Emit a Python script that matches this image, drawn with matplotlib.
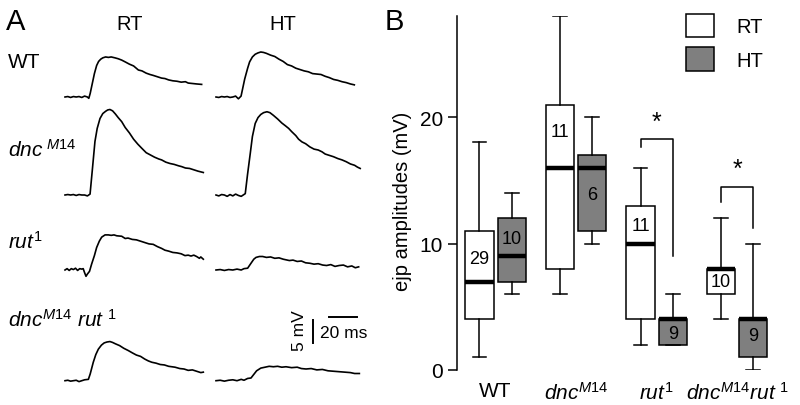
import matplotlib
matplotlib.use('Agg')
import matplotlib.pyplot as plt
from matplotlib.patches import Patch
import numpy as np

plt.rcParams['font.family'] = ['Liberation Sans', 'DejaVu Sans']
plt.rcParams['mathtext.fontset'] = 'custom'
plt.rcParams['mathtext.rm'] = 'Liberation Sans'
plt.rcParams['mathtext.it'] = 'Liberation Sans:italic'
plt.rcParams['mathtext.bf'] = 'Liberation Sans:bold'

# ---------------- panel A: example ejp traces (ms, mV above baseline) ----------------
wt_rt_t = [0, 2, 4, 6, 8, 10, 12, 14, 16, 17, 18, 19.5, 21, 22.6, 24, 25.5, 27, 29, 31, 33, 35.7, 38, 40.5,
           43, 46, 49, 52.4, 55, 58, 60.7, 63, 66, 69, 71.4, 74, 77, 80, 83, 86, 88, 91, 94, 97.6]
wt_rt_v = [0, 0.1, -0.1, 0.1, 0, 0.1, -0.1, 0.2, 0, -0.3, 0.8, 3.0, 5.2, 7.0, 7.9, 8.4, 8.7, 8.9, 8.8, 8.9,
           8.7, 8.5, 8.2, 7.8, 7.3, 6.9, 6.0, 5.8, 5.3, 5.0, 4.8, 4.5, 4.2, 4.1, 3.8, 3.6, 3.5, 3.3, 3.4,
           3.1, 3.0, 2.9, 2.8]
wt_ht_t = [0, 2, 4, 6, 8, 10, 12, 14, 16, 17.9, 19, 20.5, 22.6, 24, 26, 28, 30, 32, 34, 36, 39, 42, 45, 48,
           51, 54, 57, 60, 63, 66, 69, 72, 75, 78, 81, 84, 87, 90, 93, 96, 98.8]
wt_ht_v = [0, -0.1, 0.1, 0, 0.1, -0.1, 0, 0.2, -0.4, 0.2, 1.8, 4.0, 6.4, 7.8, 8.9, 9.5, 9.8, 10.0, 9.9, 9.7,
           9.3, 9.0, 8.4, 7.9, 7.2, 6.9, 6.4, 6.1, 5.8, 5.6, 5.2, 5.1, 5.0, 4.6, 4.3, 3.9, 3.7, 3.4, 3.2,
           2.9, 2.7]
dnc_rt_t = [0, 2, 4, 6, 8, 10, 12, 14, 16, 17.9, 19.5, 21.4, 23, 25, 27, 29, 30.5, 32.1, 34, 36, 38, 40.5,
            43, 46, 49, 52, 54.8, 58, 61, 64, 67, 69, 72, 75, 78, 81, 83.4, 86, 89, 92, 95, 98.8]
dnc_rt_v = [0, 0.1, 0, 0.1, -0.1, 0.1, 0, 0, -0.2, 0.2, 5.5, 11.9, 14.8, 17.0, 18.1, 18.6, 18.9, 19.0, 18.7,
            18.0, 17.2, 16.3, 15.0, 13.8, 12.4, 11.3, 10.4, 9.4, 8.9, 8.4, 8.0, 7.8, 7.3, 7.0, 6.8, 6.5,
            6.3, 6.0, 5.9, 5.6, 5.3, 5.0]
dnc_ht_t = [0, 2, 4, 6, 8, 10, 12, 14, 16, 18, 20.9, 22.5, 24.5, 26, 28, 30, 32, 34, 36.4, 38.5, 41, 44, 47,
            49.5, 51.9, 54, 57, 59, 61.4, 64, 67, 70, 73, 75.7, 78, 81, 84, 87, 90, 93, 96, 99, 101, 103]
dnc_ht_v = [0, -0.2, 0.1, 0, -0.3, 0.1, -0.2, 0.2, -0.1, -0.3, 0.3, 4.5, 9.3, 13.0, 15.9, 17.2, 17.9, 18.3,
            18.5, 18.3, 17.7, 16.9, 16.0, 15.4, 14.8, 14.1, 13.2, 12.4, 11.8, 11.4, 10.7, 10.2, 10.0, 9.6,
            9.1, 8.8, 8.5, 8.1, 7.8, 7.4, 6.9, 6.6, 6.2, 5.9]
rut_rt_t = [0, 1.5, 3, 4.5, 6, 7.5, 9, 10.5, 12, 13, 14, 15, 16, 17.5, 19, 21, 22.6, 24.5, 26.2, 28.6, 31,
            33, 35, 37, 40.5, 43, 45, 48, 51, 54, 57, 60, 63, 66, 69, 71.4, 74, 77, 80, 83, 85.7, 88, 90,
            92, 94, 96, 97, 98.8]
rut_rt_v = [0, 0.3, -0.1, 0.3, 0.1, 0.4, -0.1, 0.3, 0.2, 0.3, -0.6, -1.4, -0.9, -0.3, 1.3, 3.2, 5.0, 6.4,
            7.3, 7.8, 7.8, 7.7, 7.8, 7.6, 7.5, 7.0, 7.1, 6.8, 6.7, 6.4, 6.1, 5.8, 5.7, 5.2, 4.8, 4.4, 4.2,
            3.9, 3.8, 3.6, 3.2, 3.3, 3.1, 3.3, 3.0, 2.6, 2.9, 2.4]
rut_ht_t = [0, 3, 6, 9, 12, 15, 18, 20, 22.6, 25, 27, 28.6, 31, 33.3, 36, 39, 42, 45, 48, 52.4, 55, 58, 61,
            64, 67, 70, 73, 76.2, 79, 82, 85, 88, 91, 94, 97, 99.5, 101.9]
rut_ht_v = [0, 0.1, -0.1, 0.1, 0, 0.2, 0, 0.3, 0.4, 1.5, 2.4, 2.8, 3.0, 3.0, 2.8, 2.9, 2.6, 2.7, 2.4, 2.1,
            2.2, 1.9, 2.0, 1.6, 1.5, 1.3, 1.4, 1.1, 1.0, 1.2, 0.8, 1.0, 1.1, 0.7, 0.9, 0.5, 0.7]
dr_rt_t = [0, 2, 4, 6, 8, 10, 12, 14, 16.7, 18, 20.2, 22, 23.8, 26, 28, 30, 32.1, 34, 36, 39, 42, 45.2, 48,
           51, 54, 57, 59.5, 62, 65, 68, 71, 74, 78.6, 82, 85, 88, 91, 94, 97, 98.8]
dr_rt_v = [0, 0.1, -0.1, 0, 0.1, -0.2, 0, 0.2, 0.3, 1.5, 4.1, 5.8, 7.0, 7.9, 8.4, 8.6, 8.7, 8.5, 8.2, 7.8,
           7.2, 6.7, 6.2, 5.7, 5.4, 4.8, 4.4, 4.1, 3.9, 3.6, 3.5, 3.2, 3.0, 2.7, 2.6, 2.3, 2.4, 2.1, 1.8,
           1.9]
dr_ht_t = [0, 3, 6, 9, 12, 15, 18, 20, 22.6, 25, 27, 29, 32, 35, 38, 41, 44, 47, 50, 54, 58, 61, 64.3, 68,
           72, 76, 80, 84, 88, 92, 96, 99, 102.4]
dr_ht_v = [0, 0.1, -0.1, 0.1, 0.2, 0, 0.3, 0.1, 0.5, 0.6, 1.4, 2.2, 2.8, 3.0, 3.2, 3.1, 3.2, 3.0, 3.1, 2.9,
           3.0, 2.7, 2.6, 2.7, 2.4, 2.5, 2.2, 2.1, 2.0, 1.9, 1.8, 1.6, 1.6]

# ---------------- panel B: ejp amplitude box plots (mV) ----------------
genotypes = ['WT', r'$\mathit{dnc}^{\mathit{M14}}$', r'$\mathit{rut}^{\mathit{1}}$',
             r'$\mathit{dnc}^{\mathit{M14}}\mathit{rut}^{\ \mathit{1}}$']
rt_lo = [1, 6, 2, 4]
rt_q1 = [4, 8, 4, 6]
rt_med = [7, 16, 10, 8]
rt_q3 = [11, 21, 13, 8]
rt_hi = [18, 28, 16, 12]
rt_n = [29, 11, 11, 10]
ht_lo = [6, 10, 2, 0]
ht_q1 = [7, 11, 2, 1]
ht_med = [9, 16, 4, 4]
ht_q3 = [12, 17, 4, 4]
ht_hi = [14, 20, 6, 10]
ht_n = [10, 6, 9, 9]
sig_groups = [3, 4]

W, H = 800, 406
fig = plt.figure(figsize=(8, 4.06), dpi=100)


def fx(px):
    return px / W


def fy(py):
    return 1 - py / H


# panel A axes: 1 ms = 1.4 px, 1 mV = 4.5 px
PX_MS, PX_MV = 1.4, 4.5
ax_a = fig.add_axes([0, 0, 0.5, 1])
ax_a.set_xlim(0, 400 / PX_MS)
ax_a.set_ylim(0, H / PX_MV)
ax_a.axis('off')

col_start = {'RT': 65 / PX_MS, 'HT': 216 / PX_MS}
row_base = [(H - 98) / PX_MV, (H - 196) / PX_MV, (H - 271) / PX_MV, (H - 381.7) / PX_MV]
traces = [(wt_rt_t, wt_rt_v, wt_ht_t, wt_ht_v),
          (dnc_rt_t, dnc_rt_v, dnc_ht_t, dnc_ht_v),
          (rut_rt_t, rut_rt_v, rut_ht_t, rut_ht_v),
          (dr_rt_t, dr_rt_v, dr_ht_t, dr_ht_v)]
for base, (t1, v1, t2, v2) in zip(row_base, traces):
    ax_a.plot(np.array(t1) + col_start['RT'], np.array(v1) + base, color='black', lw=1.2)
    ax_a.plot(np.array(t2) + col_start['HT'], np.array(v2) + base, color='black', lw=1.2)

# scale bars 5 mV / 20 ms
sb_x, sb_y = 312.7 / PX_MS, (H - 343.5) / PX_MV
ax_a.plot([sb_x, sb_x], [sb_y, sb_y + 5], color='black', lw=1.4)
hb_x, hb_y = 329.3 / PX_MS, (H - 317.7) / PX_MV
ax_a.plot([hb_x, hb_x + 20], [hb_y, hb_y], color='black', lw=1.4)
fig.text(fx(300), fy(331), '5 mV', rotation=90, ha='center', va='center', fontsize=12.5)
fig.text(fx(344), fy(333), '20 ms', ha='center', va='center', fontsize=12.5)

fig.text(fx(6), fy(30), 'A', fontsize=21, va='baseline')
fig.text(fx(130), fy(30), 'RT', fontsize=14.5, ha='center', va='baseline')
fig.text(fx(283), fy(30), 'HT', fontsize=14.5, ha='center', va='baseline')
fig.text(fx(8), fy(68), 'WT', fontsize=15, va='baseline')
fig.text(fx(8), fy(157), r'$\mathit{dnc}^{\ \mathit{M14}}$', fontsize=15, va='baseline')
fig.text(fx(8), fy(249), r'$\mathit{rut}^{\mathit{1}}$', fontsize=15, va='baseline')
fig.text(fx(8), fy(327), r'$\mathit{dnc}^{\mathit{M14}}\ \mathit{rut}^{\ \mathit{1}}$', fontsize=15,
         va='baseline')

# panel B
fig.text(fx(385), fy(30), 'B', fontsize=21, va='baseline')
ax_b = fig.add_axes([fx(456.7), fy(371), (W - 456.7) / W, (371 - 17) / H])
ax_b.set_xlim(0.517, 4.781)
ax_b.set_ylim(0, 28)
for s in ['top', 'right', 'bottom']:
    ax_b.spines[s].set_visible(False)
ax_b.spines['left'].set_linewidth(1.1)

gray = '#7f7f7f'
pos = np.arange(1, 5)
off = 0.2
stats_rt = [dict(whislo=a, q1=b, med=c, q3=d, whishi=e, fliers=[])
            for a, b, c, d, e in zip(rt_lo, rt_q1, rt_med, rt_q3, rt_hi)]
stats_ht = [dict(whislo=a, q1=b, med=c, q3=d, whishi=e, fliers=[])
            for a, b, c, d, e in zip(ht_lo, ht_q1, ht_med, ht_q3, ht_hi)]
common = dict(widths=0.35, capwidths=0.17, patch_artist=True, showfliers=False,
              medianprops=dict(color='black', lw=3.2, solid_capstyle='butt'),
              whiskerprops=dict(color='black', lw=1.1),
              capprops=dict(color='black', lw=1.1))
ax_b.bxp(stats_rt, positions=pos - off, boxprops=dict(facecolor='white', edgecolor='black', lw=1.1),
         manage_ticks=False, **common)
ax_b.bxp(stats_ht, positions=pos + off, boxprops=dict(facecolor=gray, edgecolor='black', lw=1.1),
         manage_ticks=False, **common)

# n labels inside boxes
rt_label_y = [8.8, 18.9, 11.4, 7.0]
ht_label_y = [10.4, 13.9, 2.85, 2.7]
for p, n, y in zip(pos - off, rt_n, rt_label_y):
    ax_b.text(p, y, str(n), ha='center', va='center', fontsize=13)
for p, n, y in zip(pos + off, ht_n, ht_label_y):
    ax_b.text(p, y, str(n), ha='center', va='center', fontsize=13)

# significance brackets
br_top = [18.3, 14.5]
br_left = [17.6, 13.3]
br_right = [9.0, 11.2]
star_y = [19.6, 15.9]
for g, top, yl, yr, ys in zip(sig_groups, br_top, br_left, br_right, star_y):
    ax_b.plot([g - off, g - off, g + off, g + off], [yl, top, top, yr], color='black', lw=1.1)
    ax_b.text(g, ys, '*', ha='center', va='center', fontsize=18)

ax_b.set_yticks([0, 10, 20])
ax_b.tick_params(axis='y', length=6.7, width=1.1, pad=3, labelsize=15)
ax_b.set_xticks(pos)
ax_b.set_xticklabels(genotypes)
ax_b.tick_params(axis='x', length=0, pad=8, labelsize=15)
ax_b.set_ylabel('ejp amplitudes (mV)', fontsize=14.5)
ax_b.yaxis.set_label_coords(-0.13, 0.48)

handles = [Patch(facecolor='white', edgecolor='black', lw=1.1, label='RT'),
           Patch(facecolor=gray, edgecolor='black', lw=1.1, label='HT')]
fig.legend(handles=handles, loc='upper left', bbox_to_anchor=(fx(686), fy(15)), frameon=False,
           fontsize=14.5, handlelength=1.4, handleheight=1.4, labelspacing=0.5, handletextpad=1.1,
           borderpad=0, borderaxespad=0)

fig.savefig('out.png', dpi=100)
